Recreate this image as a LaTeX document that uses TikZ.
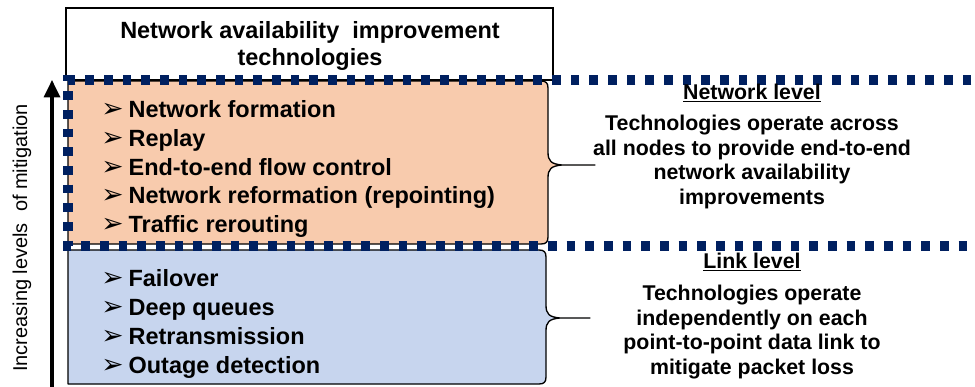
\documentclass[tikz,border=0pt]{standalone}
\usepackage{fontspec}
\setmainfont{Liberation Sans}
\newfontfamily\dingfont{DejaVu Sans}
\usepackage{tikz}
\usetikzlibrary{arrows.meta}
\definecolor{netfill}{HTML}{F8CBAD}
\definecolor{linkfill}{HTML}{C7D5EE}
\definecolor{navy}{HTML}{002060}
% one bullet line with the arrowhead mark
\newcommand{\itm}[1]{\makebox[20.5pt][l]{\dingfont\fontsize{20}{20}\selectfont ➢}#1}

\begin{document}
\begin{tikzpicture}[
    x=0.75pt, y=-0.75pt,
    titlebox/.style={draw=black, line width=0.8pt, fill=white},
    levelbox/.style={draw=black, line width=1pt, line join=round},
    listtext/.style={anchor=west, align=left, inner sep=0pt, font=\bfseries\fontsize{17.6}{21.7}\selectfont},
    headtext/.style={align=center, inner sep=0pt, font=\bfseries\fontsize{16}{18.6}\selectfont},
    sidetext/.style={align=center, inner sep=0pt, font=\fontsize{15}{18}\selectfont},
    navydash/.style={draw=navy, line width=7pt, dash pattern=on 6.5pt off 7.5pt},
    uparr/.style={-{Triangle[length=13pt, width=12pt]}, line width=2.4pt}
]
    \useasboundingbox (0,0) rectangle (975,386);

    % title box
    \draw[titlebox] (66,8) rectangle (553,80);
    \node[font=\bfseries\fontsize{17.6}{20.3}\selectfont, align=center] (title) at (310,46)
        {Network availability \ improvement\\technologies};

    % network level box, right edge is a brace
    \filldraw[levelbox, fill=netfill] (68,244) -- (68,81) -- (541,81)
        .. controls (546,81) and (548,83) .. (548,88) -- (548,152)
        .. controls (548,161) and (551,164) .. (562,165) -- (595,165) -- (562,165)
        .. controls (551,166) and (548,169) .. (548,178) -- (548,237)
        .. controls (548,242) and (546,244) .. (541,244) -- cycle;

    % link level box
    \filldraw[levelbox, fill=linkfill] (68,384) -- (68,250) -- (539,250)
        .. controls (544,250) and (546,252) .. (546,257) -- (546,305)
        .. controls (546,314) and (549,317) .. (560,318) -- (590,318) -- (560,318)
        .. controls (549,319) and (546,322) .. (546,331) -- (546,377)
        .. controls (546,382) and (544,384) .. (539,384) -- cycle;

    % dashed frame round the network level
    \draw[navydash] (990,80) -- (68,80) -- (68,246) -- (990,246);

    % bullet lists
    \node[listtext] (netlist) at (101,169) {%
        \itm{Network formation}\\
        \itm{Replay}\\
        \itm{End-to-end flow control}\\
        \itm{Network reformation (repointing)}\\
        \itm{Traffic rerouting}};
    \node[listtext] (linklist) at (101,324) {%
        \itm{Failover}\\
        \itm{Deep queues}\\
        \itm{Retransmission}\\
        \itm{Outage detection}};

    % level descriptions
    \node[headtext] (nethead) at (752,93) {\underline{Network level}};
    \node[headtext] (netdesc) at (752,162) {Technologies operate across\\all nodes to provide end-to-end\\network availability\\improvements};
    \node[headtext] (linkhead) at (752,262) {\underline{Link level}};
    \node[headtext] (linkdesc) at (752,332) {Technologies operate\\independently on each\\point-to-point data link to\\mitigate packet loss};

    % mitigation axis
    \coordinate (axbot) at (52,388);
    \coordinate (axtop) at (52,80);
    \draw[uparr] (axbot) -- (axtop);
    \node[sidetext, rotate=90] (axlabel) at (22,238) {Increasing levels \ of mitigation};
\end{tikzpicture}
\end{document}
